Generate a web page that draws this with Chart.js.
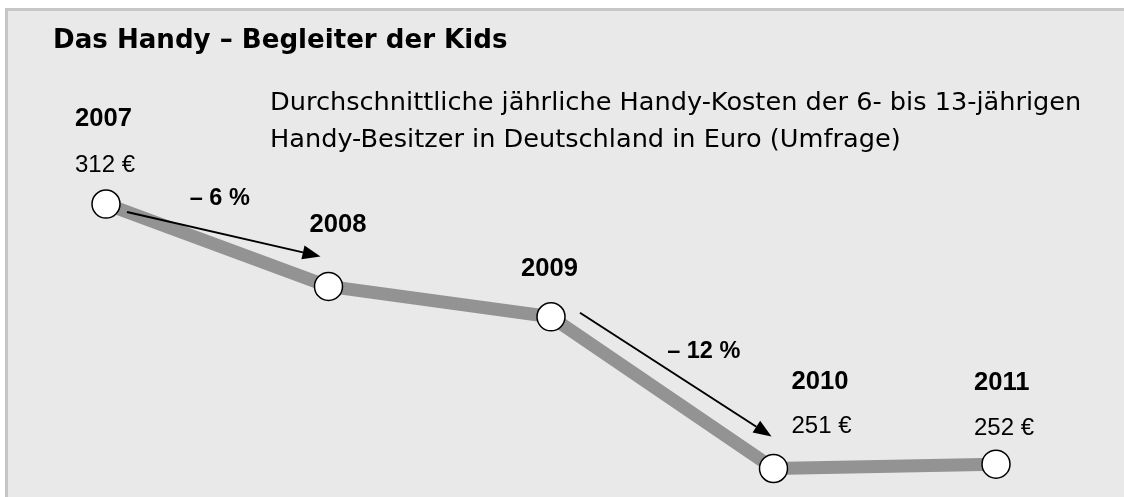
<!DOCTYPE html>
<html lang="de">
<head>
<meta charset="utf-8">
<title>Das Handy – Begleiter der Kids</title>
<script src="https://cdn.jsdelivr.net/npm/chart.js@4/dist/chart.umd.min.js"></script>
<style>
  html, body { margin: 0; padding: 0; background: #ffffff; }
  #wrap { position: relative; width: 1124px; height: 497px; }
</style>
</head>
<body>
<div id="wrap"><canvas id="chart" width="1124" height="497"></canvas></div>
<script>
// Jahre und durchschnittliche Kosten in Euro
const years = ['2007', '2008', '2009', '2010', '2011'];
const costs = [312, 293, 286, 251, 252];
// Beschriftung der Werte (nur an einigen Punkten)
const valueLabels = ['312 €', null, null, '251 €', '252 €'];
// Veränderungen zwischen zwei Jahren
const changes = [
    { from: 0, to: 1, text: '– 6 %' },
    { from: 2, to: 3, text: '– 12 %' }
];

const titleText = 'Das Handy – Begleiter der Kids';
const subtitleLines = [
    'Durchschnittliche jährliche Handy-Kosten der 6- bis 13-jährigen',
    'Handy-Besitzer in Deutschland in Euro (Umfrage)'
];

const comicFont = '"Comic Sans MS", "DejaVu Sans", sans-serif';
const arialFont = '"Liberation Sans", Arial, sans-serif';

// Abstand der Beschriftungen zum Punkt (Jahr / Wert)
const labelLayout = [
    { yearDx: -31, yearDy: -85, valDx: -31, valDy: -39 },
    { yearDx: -19, yearDy: -61 },
    { yearDx: -30, yearDy: -48 },
    { yearDx: 18, yearDy: -87, valDx: 18, valDy: -42 },
    { yearDx: -22, yearDy: -81, valDx: -22, valDy: -36 }
];
// Pfeile: Start relativ zum ersten Punkt, Ende relativ zum zweiten
const arrowLayout = [
    { sx: 21, sy: 8, ex: -8, ey: -30, lx: -4, ly: -36 },
    { sx: 29, sy: -4, ex: -2, ey: -32, lx: 28, ly: -23 }
];

// Schriftgröße so wählen, dass der Text eine bestimmte Breite hat
const fitFont = (ctx, text, weight, family, width) => {
    ctx.font = `${weight} 20px ${family}`;
    const w = ctx.measureText(text).width;
    return `${weight} ${(20 * width / w).toFixed(1)}px ${family}`;
};

const drawArrow = (ctx, x1, y1, x2, y2) => {
    const ang = Math.atan2(y2 - y1, x2 - x1);
    const head = 18, half = 7;
    const bx = x2 - head * Math.cos(ang), by = y2 - head * Math.sin(ang);
    ctx.strokeStyle = '#000';
    ctx.lineWidth = 2;
    ctx.beginPath();
    ctx.moveTo(x1, y1);
    ctx.lineTo(bx, by);
    ctx.stroke();
    ctx.fillStyle = '#000';
    ctx.beginPath();
    ctx.moveTo(x2, y2);
    ctx.lineTo(bx + half * Math.sin(ang), by - half * Math.cos(ang));
    ctx.lineTo(bx - half * Math.sin(ang), by + half * Math.cos(ang));
    ctx.closePath();
    ctx.fill();
};

const panelPlugin = {
    id: 'panel',
    beforeDraw(chart) {
        const ctx = chart.ctx;
        ctx.save();
        ctx.fillStyle = '#ffffff';
        ctx.fillRect(0, 0, chart.width, chart.height);
        ctx.fillStyle = '#c6c6c6';
        ctx.fillRect(5, 8, chart.width, chart.height);
        ctx.fillStyle = '#e9e9e9';
        ctx.fillRect(8, 11, chart.width, chart.height);
        ctx.restore();
    }
};

const textPlugin = {
    id: 'texts',
    afterDraw(chart) {
        const ctx = chart.ctx;
        const pts = chart.getDatasetMeta(0).data;
        ctx.save();
        ctx.textBaseline = 'middle';
        ctx.textAlign = 'left';
        ctx.fillStyle = '#000';

        // Titel und Untertitel
        ctx.font = fitFont(ctx, titleText, 'bold', comicFont, 454);
        ctx.fillText(titleText, 53, 41);
        ctx.font = fitFont(ctx, subtitleLines[0], 'normal', comicFont, 810);
        ctx.fillText(subtitleLines[0], 270, 103);
        ctx.fillText(subtitleLines[1], 270, 140);

        // Jahre und Werte
        const yearFont = fitFont(ctx, '2007', 'bold', arialFont, 57);
        const valFont = fitFont(ctx, '312 €', 'normal', arialFont, 60);
        pts.forEach((p, i) => {
            const l = labelLayout[i];
            ctx.font = yearFont;
            ctx.fillText(years[i], p.x + l.yearDx, p.y + l.yearDy);
            if (valueLabels[i]) {
                ctx.font = valFont;
                ctx.fillText(valueLabels[i], p.x + l.valDx, p.y + l.valDy);
            }
        });

        // Pfeile mit Prozentangabe
        const pctFont = fitFont(ctx, '– 6 %', 'bold', arialFont, 60);
        changes.forEach((c, i) => {
            const a = pts[c.from], b = pts[c.to], l = arrowLayout[i];
            const x1 = a.x + l.sx, y1 = a.y + l.sy, x2 = b.x + l.ex, y2 = b.y + l.ey;
            drawArrow(ctx, x1, y1, x2, y2);
            ctx.font = pctFont;
            ctx.textAlign = 'center';
            ctx.fillText(c.text, (x1 + x2) / 2 + l.lx, (y1 + y2) / 2 + l.ly);
            ctx.textAlign = 'left';
        });
        ctx.restore();
    }
};

const ctx = document.getElementById('chart').getContext('2d');
new Chart(ctx, {
    type: 'line',
    data: {
        labels: years,
        datasets: [{
            data: costs,
            borderColor: '#939393',
            borderWidth: 13,
            borderJoinStyle: 'bevel',
            pointRadius: 14,
            pointHoverRadius: 14,
            pointBackgroundColor: '#ffffff',
            pointBorderColor: '#000000',
            pointBorderWidth: 1.5,
            tension: 0,
            clip: false
        }]
    },
    options: {
        responsive: false,
        animation: false,
        layout: { padding: { left: 106, right: 128, top: 126, bottom: 12 } },
        plugins: {
            legend: { display: false },
            tooltip: { enabled: false }
        },
        scales: {
            x: { display: false, offset: false },
            y: { display: false, min: 248, max: 330 }
        }
    },
    plugins: [panelPlugin, textPlugin]
});
</script>
</body>
</html>
